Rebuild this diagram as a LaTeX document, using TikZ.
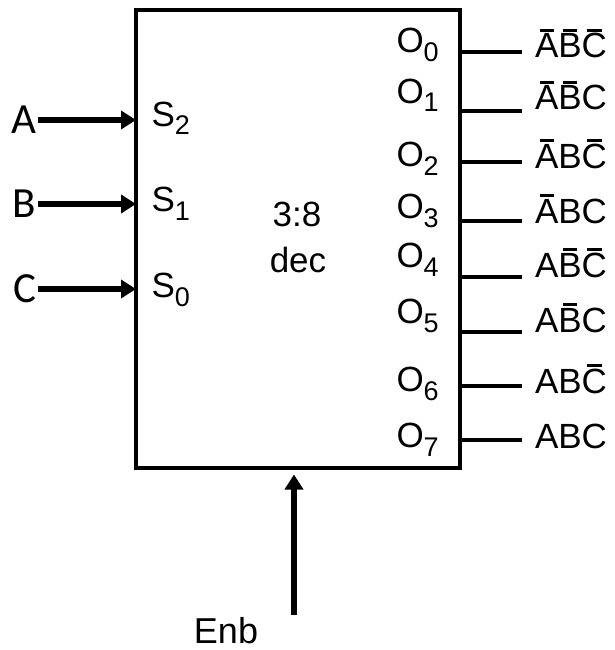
\documentclass[tikz,border=0pt]{standalone}
\usepackage{fontspec}
\setmainfont{Liberation Sans}
\newfontfamily\calfont{Carlito}
\usetikzlibrary{arrows.meta, positioning, calc}

% complemented variable: short bar over the letter
\newcommand{\nbar}[1]{\setbox0=\hbox{#1}\leavevmode\rlap{\hbox to \wd0{\hss\raisebox{\dimexpr\ht0+2pt\relax}{\rule{0.6\wd0}{2.5pt}}\hss}}\box0}
% index under a pin name
\newcommand{\sub}[1]{\raisebox{-9pt}{\fontsize{27}{27}\selectfont #1}}

\begin{document}
\begin{tikzpicture}[x=1pt, y=-1pt,
    every node/.style={inner sep=0pt, outer sep=0pt, font=\fontsize{35}{40}\selectfont},
    inarrow/.style={line width=5.5pt, -{Triangle[length=15pt, width=18pt]}},
    outline/.style={line width=4pt}]
  \useasboundingbox (0,0) rectangle (615,650);

  % decoder block
  \node[draw, outline, minimum width=324pt, minimum height=457pt, anchor=north west] (dec) at (136,10.5) {};
  \node[anchor=base] (ratio) at (297,226) {3:8};
  \node[anchor=base] (kind) at (298,272) {dec};

  % select inputs
  \foreach \n/\s/\k/\y/\b in {a/A/2/120/126, b/B/1/204/211, c/C/0/289/297}{
    \node[font=\calfont\fontsize{43}{48}\selectfont, anchor=east] (\n) at (36,\y) {\s};
    \node[anchor=base west] (s\n) at (151.5,\b) {S\sub{\k}};
    \draw[inarrow, shorten <=2pt] (\n.east) -- (dec.west |- \n.east);
  }

  % outputs and minterms
  \foreach \i/\ly/\oy/\ty/\lab in {
      0/52/53/58/{\nbar{A}\nbar{B}\nbar{C}},
      1/111/103/110/{\nbar{A}\nbar{B}C},
      2/162/166/168/{\nbar{A}B\nbar{C}},
      3/221/218/223/{\nbar{A}BC},
      4/277/267/277/{A\nbar{B}\nbar{C}},
      5/332/323/332/{A\nbar{B}C},
      6/386/391/393/{AB\nbar{C}},
      7/440/447/448/{ABC}}{
    \node[anchor=base west] (o\i) at (396.5,\oy) {O\sub{\i}};
    \coordinate (t\i) at (522,\ly);
    \draw[outline] (dec.east |- t\i) -- (t\i);
    \node[anchor=base west] (f\i) at (535,\ty) {\lab};
  }

  % enable
  \coordinate (en) at (294,615);
  \draw[inarrow, shorten >=7pt] (en) -- (en |- dec.south);
  \node[anchor=base, font=\fontsize{36}{40}\selectfont] (enb) at (226,643) {Enb};
\end{tikzpicture}
\end{document}
